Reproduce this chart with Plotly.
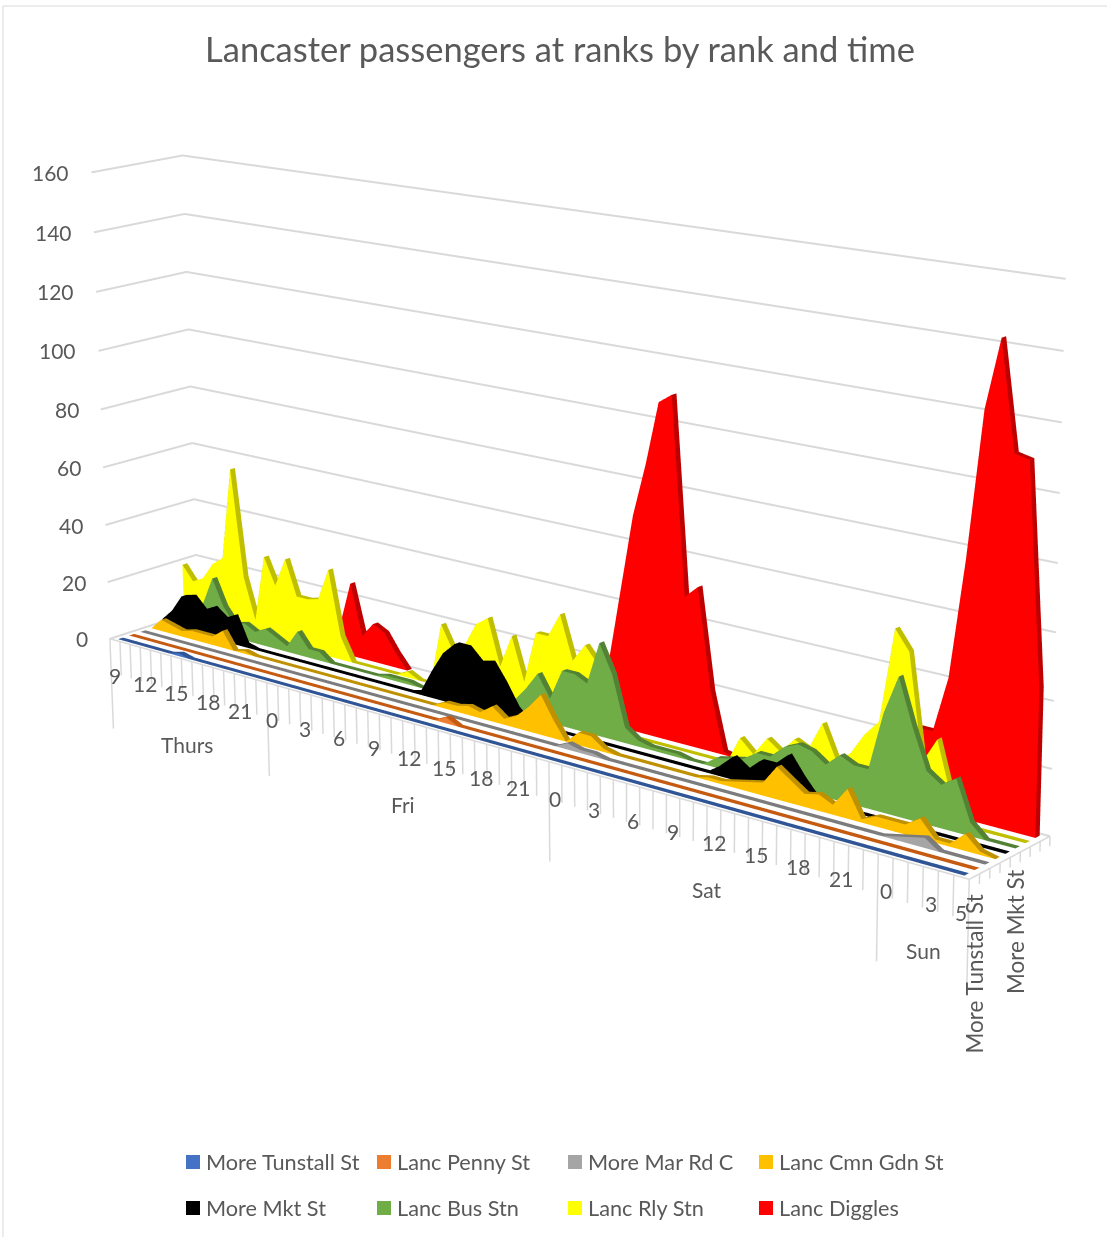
import plotly.graph_objects as go

hour_labels = ["9","","","12","","","15","","","18","","","21","","",
 "0","","","3","","","6","","","9","","","12","","","15","","","18","","","21","","",
 "0","","","3","","","6","","","9","","","12","","","15","","","18","","","21","","",
 "0","","","3","","5"]
day_labels = ["Thurs","Fri","Sat","Sun"]
day_centres = [7,26.5,50.5,65.5]
value_ticks = [0,20,40,60,80,100,120,140,160]
series_names = ["More Tunstall St","Lanc Penny St","More Mar Rd C","Lanc Cmn Gdn St","More Mkt St","Lanc Bus Stn","Lanc Rly Stn","Lanc Diggles"]
series_colors = ["#4472C4","#ED7D31","#A5A5A5","#FFC000","#000000","#70AD47","#FFFF00","#FF0000"]
strip_colors = ["#2F5597","#C55A11","#7C7C7C","#BF9000","#000000","#548235","#BFBF00","#BF0000"]

# Hourly passengers, Thu 09:00 to Sun 05:00 (15 + 24 + 24 + 6 hours)
tunstall = [0,0,0,0,0,0,1,0,0,0,0,0,0,0,0]+[0]*24+[0]*24+[0]*6
penny = [0]*15+[0]*14+[2]+[0]*9+[0]*24+[0]*6
marrd = [0]*15+[0]*23+[2]+[1,1]+[0]*21+[1]+[2,3,0,0,0,0]
cmngdn = [0,4,3,2,3,3,3,6,0,1,0,0,0,0,0]+[0]*12+[2,2,3,2,5,2,4,8,13,6,0,4]+[4,1,0,0,0,0,0,0,0,1,1,2,3,4,10,7,4,5,3,9,1,3,3,3]+[6,1,1,5,1,0]
mktst = [2,6,12,13,9,11,8,10,1,0,0,0,0,0,0]+[0]*9+[1,9,16,20,20,16,17,11,4]+[0]*6+[0]*9+[3,7,4,8,8,12,6,1]+[0]*7+[0]*6
busstn = [2,3,4,9,19,10,5,6,4,6,4,2,8,3,3]+[0,0,0,0,0,1,1,1,0,0,0,0,0,0,0,0,4,9,15,8,18,18,16,30]+[21,5,2,1,1,1,0,0,3,4,5,8,8,12,14,13,10,14,12,12,30,42,28,16]+[13,16,4,0,0,0]
rlystn = [19,14,16,22,25,57,20,6,29,20,30,18,18,19,30]+[8,0,0,0,0,0,2,0,0,21,13,16,24,27,12,23,9,26,26,34,20,26,21,8]+[2,0,0,0,0,0,0,0,0,9,5,11,8,13,11,20,10,13,20,25,54,48,16,24]+[8,0,0,0,0,0]
diggles = [None]*13+[3,10]+[25,8,13,11,5,0]+[None]*14+[0,5,19,44]+[69,86,106,109,47,51,19,1,0]+[None]*10+[0,10,24,24,41]+[77,121,142,110,109,44]
all_series = [tunstall,penny,marrd,cmngdn,mktst,busstn,rlystn,diggles]

XMIN=-0.5; XMAX=68.5; YMIN=0; YMAX=8
# Excel's 3-D projection is oblique; a small shear of the box reproduces it in Plotly's camera
SXY,SXZ,SYZ = 0.51843,-0.04404,0.1283
def shx(x,y,z): return x+SXY*y+SXZ*z
def shy(y,z): return y+SYZ*z

DEPTH=0.22
fig=go.Figure()
for i,(name,vals) in enumerate(zip(series_names,all_series)):
    X=[];Y=[];Z=[];I=[];J=[];K=[];FC=[]
    yf=i+.5-DEPTH; yb=i+.5+DEPTH
    def add(pts,col):
        b=len(X)
        for q in pts: X.append(shx(*q));Y.append(shy(q[1],q[2]));Z.append(q[2])
        for n in range(1,len(pts)-1):
            I.append(b);J.append(b+n);K.append(b+n+1);FC.append(col)
    for h in range(68):
        a,b=vals[h],vals[h+1]
        if a is None or b is None: continue
        add([(h,yf,0),(h+1,yf,0),(h+1,yf,b),(h,yf,a)],series_colors[i])
        add([(h,yf,a),(h+1,yf,b),(h+1,yb,b),(h,yb,a)],strip_colors[i])
    e=vals[68]
    add([(68,yf,0),(68,yb,0),(68,yb,e),(68,yf,e)],strip_colors[i])
    fig.add_trace(go.Mesh3d(x=X,y=Y,z=Z,i=I,j=J,k=K,facecolor=FC,flatshading=True,name=name,hoverinfo="name",
        lighting=dict(ambient=1,diffuse=0,specular=0,fresnel=0,roughness=1),showscale=False))

def polyline(segs,color,width):
    tx=[];ty=[];tz=[]
    for seg in segs:
        for q in seg:
            tx.append(shx(*q));ty.append(shy(q[1],q[2]));tz.append(q[2])
        tx.append(None);ty.append(None);tz.append(None)
    fig.add_trace(go.Scatter3d(x=tx,y=ty,z=tz,mode="lines",line=dict(color=color,width=width),hoverinfo="skip",showlegend=False))
long_ticks={0,15,39,63,69}
segs=[[(t-.5,0,0),(t-.5,0,-32 if t in long_ticks else -12)] for t in range(70)]
segs+=[[(XMAX,r,0),(XMAX,r,-3)] for r in range(9)]
segs+=[[(XMIN,0,0),(XMAX,0,0),(XMAX,YMAX,0)]]
polyline(segs,"#D9D9D9",3)
polyline([[(XMIN,0,v),(XMIN,YMAX,v),(XMAX,YMAX,v)] for v in value_ticks],"#D9D9D9",4)

TXT="#595959";FONT="Lato";SZ=21
def A3(x,y,z,size=SZ,**k):
    return dict(x=shx(x,y,z),y=shy(y,z),z=z,showarrow=False,font=dict(family=FONT,size=size,color=TXT),**k)
anns=[]
for v in value_ticks:
    anns.append(A3(XMIN,0,v,text=str(v),xanchor="right",yanchor="middle",xshift=-20))
for h,l in enumerate(hour_labels):
    if l: anns.append(A3(h,0,0,text=l,yshift=-35))
for d,u in zip(day_labels,day_centres):
    anns.append(A3(u,0,0,text=d,yshift=-84))
for r,l,ys in [(0.5,series_names[0],-16),(4.5,series_names[4],-13)]:
    anns.append(A3(XMAX,r,0,size=22.5,text=l,textangle=-90,yanchor="top",yshift=ys))

shapes=[dict(type="rect",xref="paper",yref="paper",x0=3/1107,x1=1.01,y0=-.01,y1=1-6/1237,line=dict(color="#D9D9D9",width=1))]
pa=[]
for i,n in enumerate(series_names):
    col=i%4;row=i//4
    x=186+191*col;y=1162+46*row
    shapes.append(dict(type="rect",xref="paper",yref="paper",x0=x/1107,x1=(x+14)/1107,y0=1-(y-7)/1237,y1=1-(y+7)/1237,fillcolor=series_colors[i],line=dict(width=0)))
    pa.append(dict(xref="paper",yref="paper",x=(x+18)/1107,y=1-y/1237,text=n,showarrow=False,xanchor="left",yanchor="middle",font=dict(family=FONT,size=21.7,color=TXT)))
noaxis=dict(showgrid=False,showline=False,zeroline=False,showticklabels=False,ticks="",title="",showbackground=False,showspikes=False)
fig.update_layout(width=1107,height=1237,margin=dict(l=0,r=0,t=0,b=0),paper_bgcolor="white",showlegend=False,
  title=dict(text="Lancaster passengers at ranks by rank and time",x=560/1107,xanchor="center",y=1-50/1237,yanchor="middle",font=dict(family=FONT,size=34.5,color=TXT)),
  shapes=shapes,annotations=pa,
  scene=dict(domain=dict(x=[0,1],y=[0,1]),aspectmode="manual",aspectratio=dict(x=2.06555,y=0.65487,z=1.02306),
    xaxis=dict(range=[-8.54579,75.1887],**noaxis),yaxis=dict(range=[-4.99058,29.02835],**noaxis),
    zaxis=dict(range=[-40,165],**noaxis),
    camera=dict(eye=dict(x=0.98983,y=-2.08166,z=1.39835),center=dict(x=-0.27603,y=0.67722,z=-0.68656),up=dict(x=-0.22213,y=0.52093,z=0.82419),projection=dict(type="perspective")),
    dragmode="orbit",annotations=anns))
fig.write_html("out.html",post_script="document.body.style.margin='0';",config=dict(displayModeBar=False))
